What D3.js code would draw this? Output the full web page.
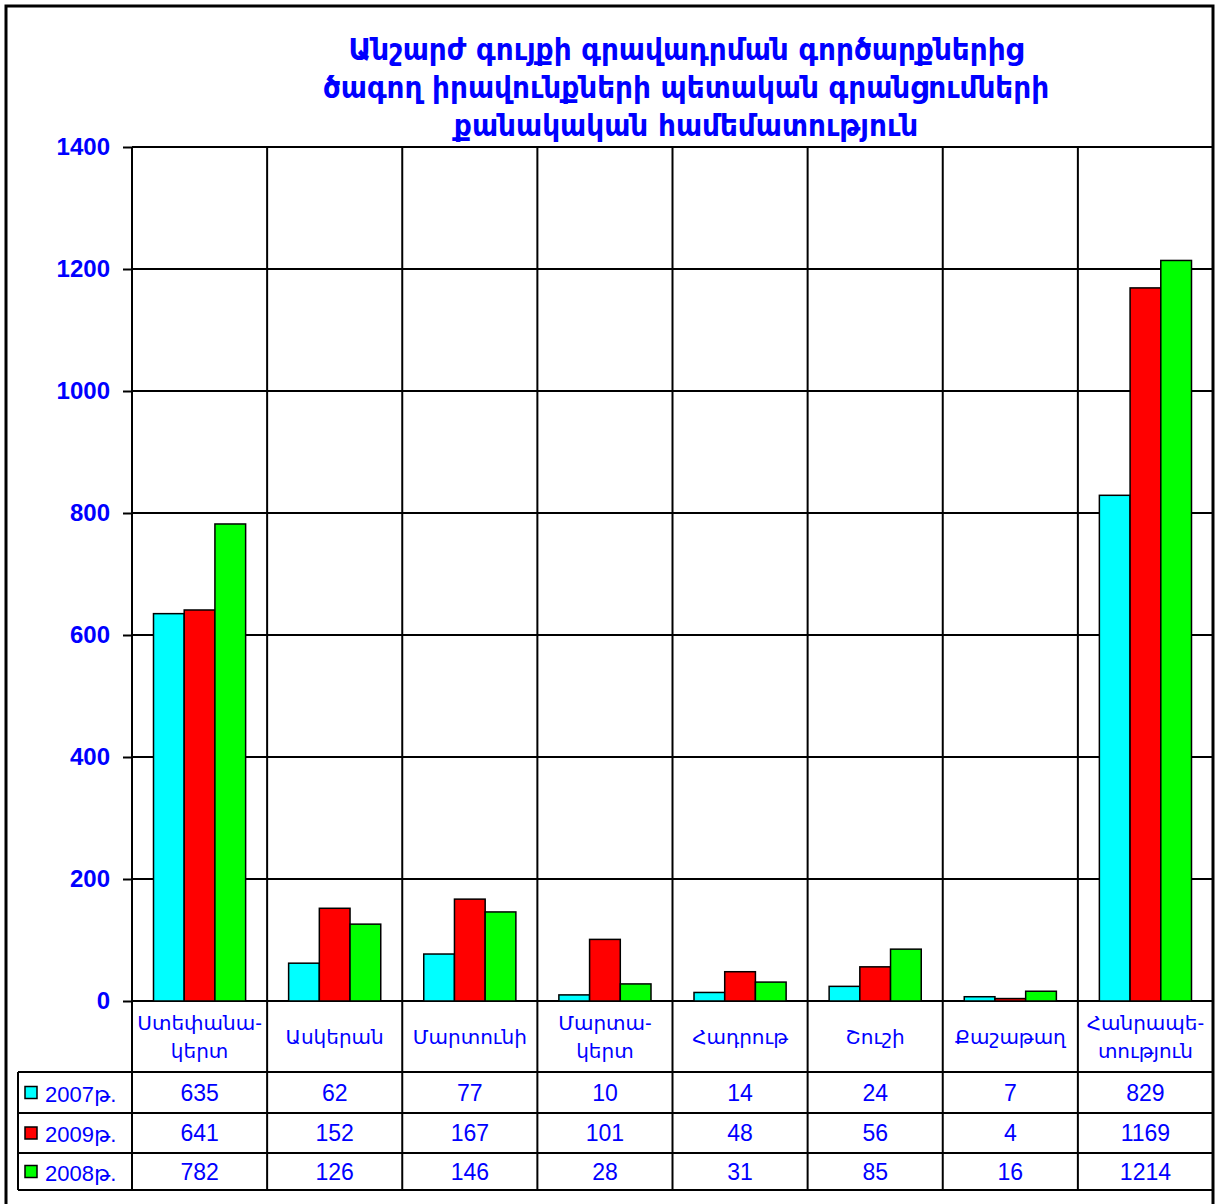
<!DOCTYPE html>
<html>
<head>
<meta charset="utf-8">
<script src="https://d3js.org/d3.v7.min.js"></script>
<style>
  body { margin: 0; background: #fff; }
  .axis path { display: none; }
  .axis line { stroke: #000; stroke-width: 2; }
  .axis text { fill: #0000ff; font-family: "Liberation Sans", Arial, sans-serif; font-weight: bold; font-size: 24px; }
  .cell { fill: #0000ff; font-family: "Liberation Sans", "DejaVu Sans", sans-serif; font-size: 20px; }
  .num { font-size: 23px; }
  .title { fill: #0000ff; font-family: "DejaVu Sans Condensed", "DejaVu Sans", sans-serif; font-weight: bold; font-size: 31px; }
</style>
</head>
<body>
<script>
// chart data
var categories = [["Ստեփանա-", "կերտ"], ["Ասկերան"], ["Մարտունի"], ["Մարտա-", "կերտ"],
                  ["Հադրութ"], ["Շուշի"], ["Քաշաթաղ"], ["Հանրապե-", "տություն"]];
var seriesNames = ["2007թ.", "2009թ.", "2008թ."];
var seriesColors = ["#00ffff", "#ff0000", "#00ff00"];
var values2007 = [635, 62, 77, 10, 14, 24, 7, 829];
var values2009 = [641, 152, 167, 101, 48, 56, 4, 1169];
var values2008 = [782, 126, 146, 28, 31, 85, 16, 1214];
var yTicks = [0, 200, 400, 600, 800, 1000, 1200, 1400];
var titleLines = ["Անշարժ գույքի գրավադրման գործարքներից",
                  "ծագող իրավունքների պետական գրանցումների",
                  "քանակական համեմատություն"];

var series = [values2007, values2009, values2008];

var W = 1217, H = 1204;
var plot = {left: 132, right: 1213, top: 147, bottom: 1001};
var rowY = [1001, 1072, 1113, 1153, 1190];
var legendLeft = 18;

var svg = d3.select("body").append("svg")
    .attr("width", W).attr("height", H);

// outer frame
svg.append("rect")
    .attr("x", 6).attr("y", 6).attr("width", 1207).attr("height", 1210)
    .attr("fill", "none").attr("stroke", "#000").attr("stroke-width", 3);

var catIdx = d3.range(categories.length);
var x = d3.scaleBand().domain(catIdx).range([plot.left, plot.right]);
var xs = d3.scaleBand().domain(d3.range(series.length)).range([0, x.bandwidth()])
    .paddingInner(0).paddingOuter(0.7);
var y = d3.scaleLinear().domain([0, 1400]).range([plot.bottom, plot.top]);

// horizontal grid
svg.append("g").selectAll("line").data(yTicks).enter().append("line")
    .attr("x1", plot.left).attr("x2", plot.right)
    .attr("y1", function(d) { return y(d); }).attr("y2", function(d) { return y(d); })
    .attr("stroke", "#000").attr("stroke-width", 2);

// vertical category separators (through table)
svg.append("g").selectAll("line").data(d3.range(categories.length + 1)).enter().append("line")
    .attr("x1", function(i) { return plot.left + i * x.step(); })
    .attr("x2", function(i) { return plot.left + i * x.step(); })
    .attr("y1", plot.top).attr("y2", rowY[4])
    .attr("stroke", "#000").attr("stroke-width", 2);

// y axis
svg.append("g").attr("class", "axis")
    .attr("transform", "translate(" + plot.left + ",0)")
    .call(d3.axisLeft(y).tickValues(yTicks).tickFormat(d3.format("d")).tickSize(9).tickPadding(13));

// bars
series.forEach(function(vals, s) {
  svg.append("g").selectAll("rect").data(vals).enter().append("rect")
      .attr("x", function(d, i) { return x(i) + xs(s); })
      .attr("y", function(d) { return y(d); })
      .attr("width", xs.bandwidth())
      .attr("height", function(d) { return y(0) - y(d); })
      .attr("fill", seriesColors[s])
      .attr("stroke", "#000").attr("stroke-width", 1.5);
});

// table horizontal lines
svg.append("g").selectAll("line").data(rowY.slice(1)).enter().append("line")
    .attr("x1", legendLeft).attr("x2", plot.right)
    .attr("y1", function(d) { return d; }).attr("y2", function(d) { return d; })
    .attr("stroke", "#000").attr("stroke-width", 2);
svg.append("line")
    .attr("x1", legendLeft).attr("x2", legendLeft)
    .attr("y1", rowY[1]).attr("y2", rowY[4])
    .attr("stroke", "#000").attr("stroke-width", 2);

// category labels
categories.forEach(function(lines, i) {
  var cx = x(i) + x.bandwidth() / 2;
  var cy = (rowY[0] + rowY[1]) / 2;
  var t = svg.append("text").attr("class", "cell")
      .attr("x", cx).attr("text-anchor", "middle")
      .attr("y", cy - (lines.length - 1) * 14 + 7);
  lines.forEach(function(l, k) {
    t.append("tspan").attr("x", cx).attr("dy", k === 0 ? 0 : 28).text(l);
  });
});

// table values and legend
series.forEach(function(vals, s) {
  var cy = (rowY[s + 1] + rowY[s + 2]) / 2;
  svg.append("rect")
      .attr("x", 25).attr("y", cy - 6).attr("width", 12).attr("height", 12)
      .attr("fill", seriesColors[s]).attr("stroke", "#000").attr("stroke-width", 1.5);
  svg.append("text").attr("class", "cell").style("font-size", "22px")
      .attr("x", 45).attr("y", cy + 9).text(seriesNames[s]);
  svg.append("g").selectAll("text").data(vals).enter().append("text")
      .attr("class", "cell num").attr("text-anchor", "middle")
      .attr("x", function(d, i) { return x(i) + x.bandwidth() / 2; })
      .attr("y", cy + 8)
      .text(function(d) { return d; });
});

// title
svg.append("text").attr("class", "title")
    .attr("text-anchor", "middle")
    .selectAll("tspan").data(titleLines).enter().append("tspan")
    .attr("x", 686)
    .attr("y", function(d, i) { return 60 + i * 38; })
    .text(function(d) { return d; });
</script>
</body>
</html>
